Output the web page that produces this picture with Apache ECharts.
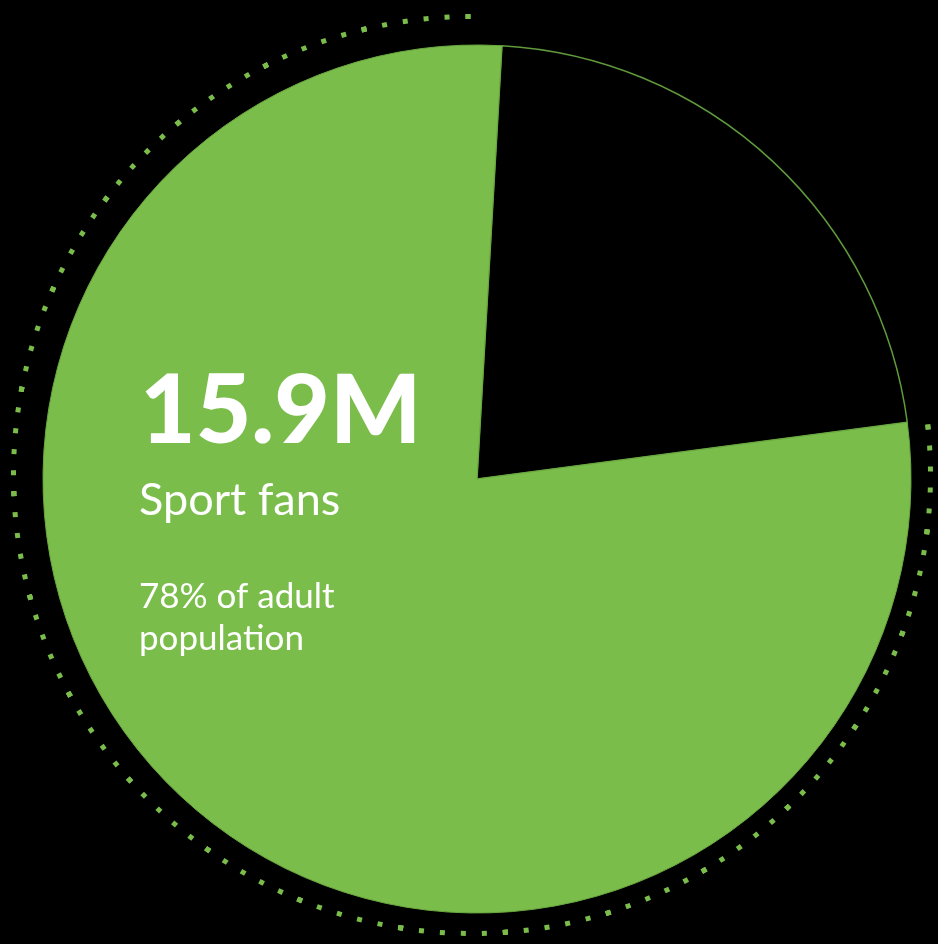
<!DOCTYPE html>
<html>
<head>
<meta charset="utf-8">
<script src="https://cdn.jsdelivr.net/npm/echarts@6/dist/echarts.min.js"></script>
<style>
html,body{margin:0;padding:0;background:#000;}
#chart{width:938px;height:944px;}
</style>
</head>
<body>
<div id="chart"></div>
<script>
const categories = ['Other adults', 'Sport fans'];
const shares = [22, 78];
const headline = '15.9M';
const subtitle = 'Sport fans';
const noteLines = ['78% of adult', 'population'];

const GREEN = '#7bbd4b';
const chart = echarts.init(document.getElementById('chart'));
chart.setOption({
  backgroundColor: '#000',
  animation: false,
  series: [
    {
      type: 'gauge',
      center: [472, 475],
      radius: 471,
      startAngle: 6,
      endAngle: -269.5,
      min: 0, max: 100,
      splitNumber: 21,
      axisLine: { show: false },
      pointer: { show: false },
      detail: { show: false },
      title: { show: false },
      axisLabel: { show: false },
      splitLine: { show: true, distance: 0, length: 5, lineStyle: { color: GREEN, width: 5, cap: 'butt' } },
      axisTick: { show: true, splitNumber: 5, distance: 0, length: 5, lineStyle: { color: GREEN, width: 5, cap: 'butt' } },
      data: []
    },
    {
      type: 'pie',
      center: [477, 479],
      radius: [0, 434],
      startAngle: 86.7,
      clockwise: true,
      label: { show: false },
      labelLine: { show: false },
      emphasis: { disabled: true },
      data: categories.map((c, i) => ({
        name: c,
        value: shares[i],
        itemStyle: i === 0
          ? { color: '#000', borderColor: '#5f9a3c', borderWidth: 1.5 }
          : { color: GREEN, borderColor: '#6aa840', borderWidth: 1 }
      }))
    }
  ],
  graphic: [
    { type: 'text', z: 100, left: 140, top: 364, style: { text: headline, fill: '#fff', font: '900 96px Lato' } },
    { type: 'text', z: 100, left: 139, top: 478, style: { text: subtitle, fill: '#fff', font: '45px Lato' } },
    { type: 'text', z: 100, left: 139, top: 579, style: { text: noteLines[0], fill: '#fff', font: '35px Lato' } },
    { type: 'text', z: 100, left: 139, top: 621, style: { text: noteLines[1], fill: '#fff', font: '35px Lato' } }
  ]
});
</script>
</body>
</html>
